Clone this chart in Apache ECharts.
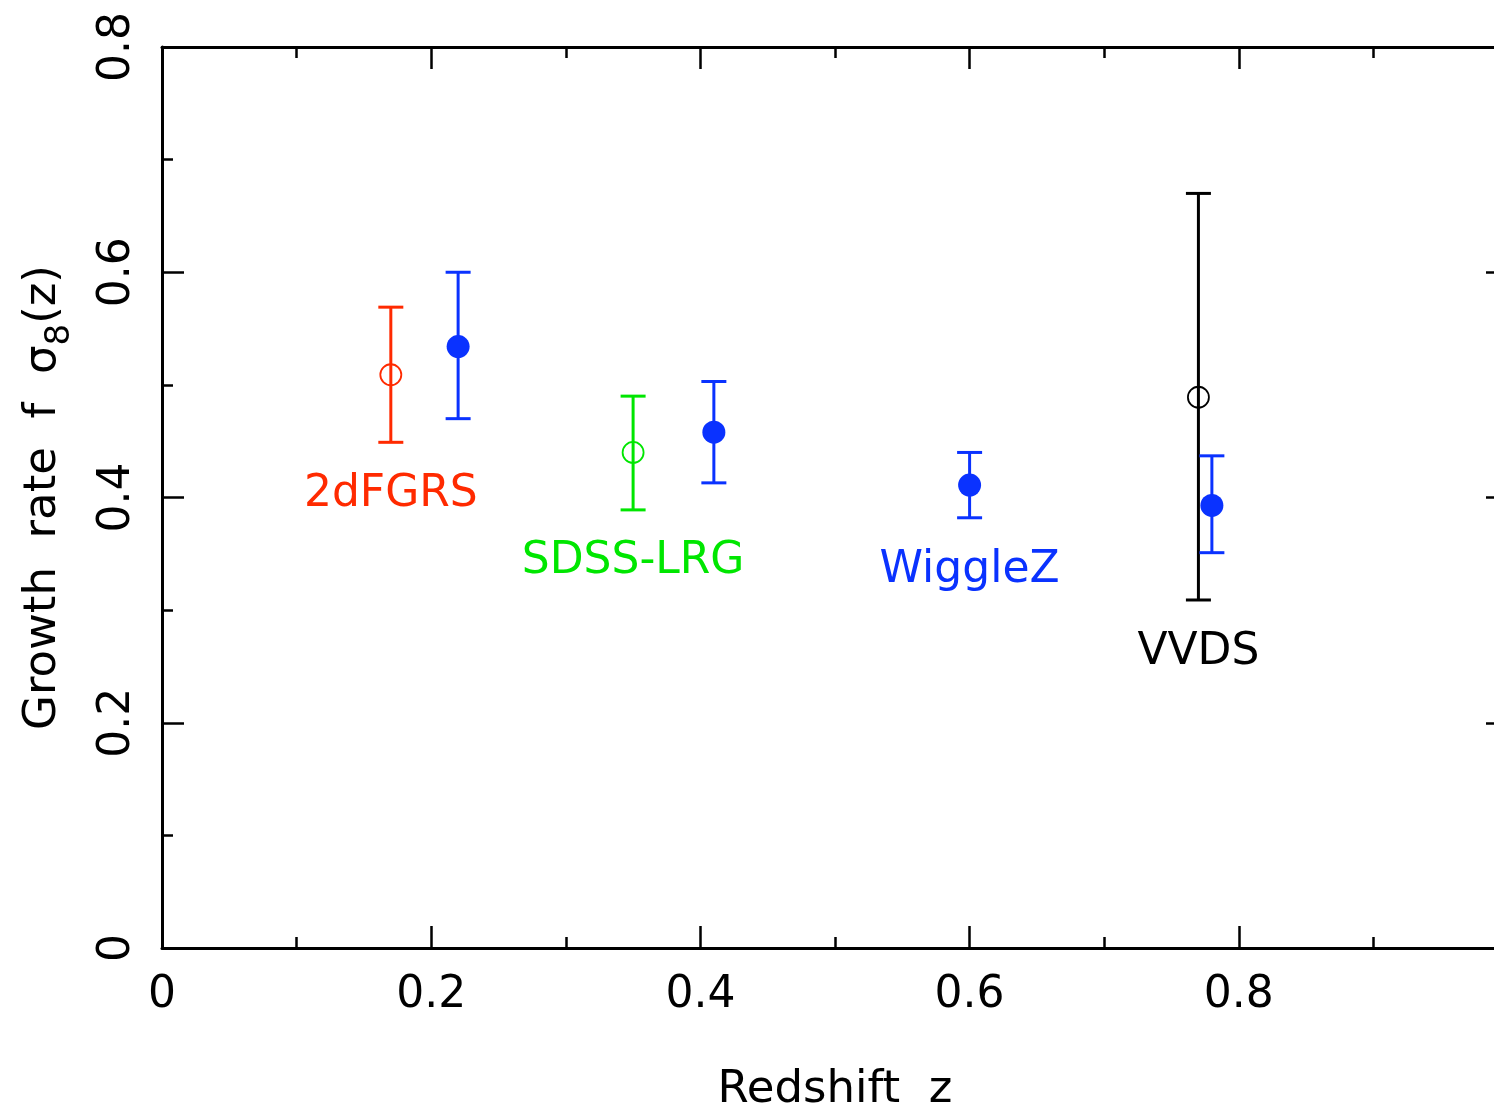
<!DOCTYPE html>
<html><head><meta charset="utf-8">
<script src="https://cdn.jsdelivr.net/npm/echarts@6.0.0/dist/echarts.min.js"></script>
<style>html,body{margin:0;padding:0;overflow:hidden;background:#fff}#c{width:1508px;height:1110px}</style>
</head><body><div id="c"></div>
<script>
// ---- data ----
const xTickValues = [0, 0.2, 0.4, 0.6, 0.8];
const yTickValues = [0, 0.2, 0.4, 0.6, 0.8];

// other surveys (open circles)
const surveyNames  = ['2dFGRS', 'SDSS-LRG', 'VVDS'];
const surveyZ      = [0.17, 0.35, 0.77];
const surveyVal    = [0.509, 0.440, 0.489];
const surveyLow    = [0.449, 0.389, 0.309];
const surveyHigh   = [0.569, 0.490, 0.670];
const surveyColors = ['#ff2a00', '#00e600', '#000000'];

// WiggleZ (filled circles)
const wiggleZ    = [0.22, 0.41, 0.60, 0.78];
const wiggleVal  = [0.534, 0.458, 0.411, 0.393];
const wiggleLow  = [0.470, 0.413, 0.382, 0.351];
const wiggleHigh = [0.600, 0.503, 0.440, 0.437];
const wiggleColor = '#0a32ff';

// survey name labels (anchored in data coordinates)
const labelNames  = ['2dFGRS', 'SDSS-LRG', 'WiggleZ', 'VVDS'];
const labelZ      = [0.17, 0.35, 0.60, 0.77];
const labelY      = [0.4025, 0.3428, 0.3355, 0.2626];
const labelColors = ['#ff2a00', '#00e600', '#0a32ff', '#000000'];

// ---- chart ----
const FONT = 'DejaVu Sans';
const chart = echarts.init(document.getElementById('c'), null, {renderer: 'canvas'});

function errorBarRenderer(color, lw) {
  return function (params, api) {
    const x = api.value(0), lo = api.value(1), hi = api.value(2);
    const pLo = api.coord([x, lo]);
    const pHi = api.coord([x, hi]);
    const half = 12.5;
    const style = {stroke: color, lineWidth: lw};
    return {
      type: 'group',
      children: [
        {type: 'line', shape: {x1: pLo[0], y1: pLo[1], x2: pHi[0], y2: pHi[1]}, style: style},
        {type: 'line', shape: {x1: pLo[0] - half, y1: pLo[1], x2: pLo[0] + half, y2: pLo[1]}, style: style},
        {type: 'line', shape: {x1: pHi[0] - half, y1: pHi[1], x2: pHi[0] + half, y2: pHi[1]}, style: style}
      ]
    };
  };
}

const series = [];
surveyNames.forEach((n, i) => {
  series.push({
    type: 'custom', name: n + ' err', xAxisIndex: 0, yAxisIndex: 0,
    renderItem: errorBarRenderer(surveyColors[i], 3),
    data: [[surveyZ[i], surveyLow[i], surveyHigh[i]]],
    z: 2, silent: true
  });
  series.push({
    type: 'scatter', name: n, xAxisIndex: 0, yAxisIndex: 0,
    symbol: 'circle', symbolSize: 21,
    itemStyle: {color: 'rgba(0,0,0,0)', borderColor: surveyColors[i], borderWidth: 1.8, opacity: 1},
    data: [[surveyZ[i], surveyVal[i]]],
    z: 3, silent: true
  });
});
series.push({
  type: 'custom', name: 'WiggleZ err', xAxisIndex: 0, yAxisIndex: 0,
  renderItem: errorBarRenderer(wiggleColor, 3),
  data: wiggleZ.map((z, i) => [z, wiggleLow[i], wiggleHigh[i]]),
  z: 4, silent: true
});
series.push({
  type: 'scatter', name: 'WiggleZ', xAxisIndex: 0, yAxisIndex: 0,
  symbol: 'circle', symbolSize: 23,
  itemStyle: {color: wiggleColor, opacity: 1},
  data: wiggleZ.map((z, i) => [z, wiggleVal[i]]),
  z: 5, silent: true
});
series.push({
  type: 'scatter', name: 'labels', xAxisIndex: 0, yAxisIndex: 0,
  symbolSize: 0,
  itemStyle: {opacity: 1},
  data: labelNames.map((n, i) => ({
    value: [labelZ[i], labelY[i]], name: n,
    label: {color: labelColors[i]}
  })),
  label: {show: true, position: 'inside', formatter: p => p.name, fontFamily: FONT, fontSize: 44, opacity: 1},
  z: 6, silent: true
});

const axisCommon = {
  type: 'value',
  axisLine: {show: true, onZero: false, lineStyle: {color: '#000', width: 3}},
  axisTick: {show: true, inside: true, length: 22, lineStyle: {color: '#000', width: 2.5}},
  minorTick: {show: true, splitNumber: 2, length: 11, lineStyle: {color: '#000', width: 2.5}},
  splitLine: {show: false},
  minorSplitLine: {show: false}
};

const option = {
  animation: false,
  backgroundColor: '#fff',
  grid: {left: 162, top: 47, right: 0, bottom: 162, containLabel: false, outerBoundsMode: 'none'},
  xAxis: [
    Object.assign({}, axisCommon, {
      position: 'bottom', min: 0, max: 1, interval: 0.2,
      axisLabel: {show: true, margin: 26, color: '#000', fontFamily: FONT, fontSize: 44,
        formatter: v => (xTickValues.some(t => Math.abs(t - v) < 1e-9) ? String(+v.toFixed(1)) : '')},
      name: 'Redshift  z', nameLocation: 'middle', nameGap: 120,
      nameTextStyle: {color: '#000', fontFamily: FONT, fontSize: 45}
    }),
    Object.assign({}, axisCommon, {
      position: 'top', min: 0, max: 1, interval: 0.2,
      axisLabel: {show: false}
    })
  ],
  yAxis: [
    Object.assign({}, axisCommon, {
      position: 'left', min: 0, max: 0.8, interval: 0.2,
      axisLabel: {show: true, rotate: 90, margin: 22, color: '#000', fontFamily: FONT, fontSize: 44,
        formatter: v => (yTickValues.some(t => Math.abs(t - v) < 1e-9) ? String(+v.toFixed(1)) : '')},
      name: '{a|Growth  rate  f  σ}{s|8}{a|(z)}', nameLocation: 'middle', nameGap: 85, nameRotate: 90,
      nameTextStyle: {color: '#000', fontFamily: FONT, fontSize: 45,
        rich: {
          a: {fontFamily: FONT, fontSize: 45, color: '#000', lineHeight: 56, verticalAlign: 'top'},
          s: {fontFamily: FONT, fontSize: 34, color: '#000', lineHeight: 56, verticalAlign: 'bottom', padding: [24, 0, 0, 0]}
        }}
    }),
    Object.assign({}, axisCommon, {
      position: 'right', min: 0, max: 0.8, interval: 0.2,
      axisLabel: {show: false}
    })
  ],
  series: series
};
chart.setOption(option);
</script>
</body></html>
